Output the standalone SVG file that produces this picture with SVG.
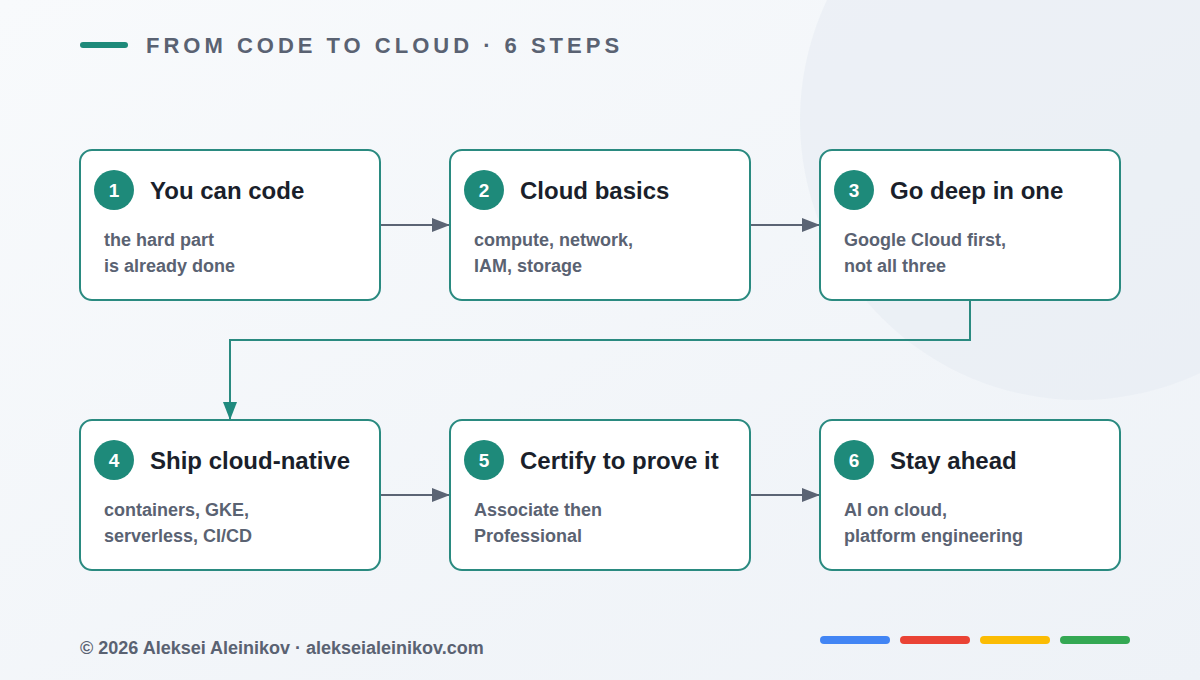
<svg xmlns="http://www.w3.org/2000/svg" width="1200" height="680" viewBox="0 0 1200 680">
  <defs>
    <linearGradient id="bg" x1="0" y1="0" x2="1" y2="1">
      <stop offset="0" stop-color="#f8fafc"/>
      <stop offset="1" stop-color="#eef2f7"/>
    </linearGradient>
    <marker id="arrowGray" viewBox="0 0 18 14" refX="18" refY="7" markerWidth="18" markerHeight="14" markerUnits="userSpaceOnUse" orient="auto">
      <path d="M0,0 L18,7 L0,14 z" fill="#5b6474"/>
    </marker>
    <marker id="arrowTeal" viewBox="0 0 18 14" refX="18" refY="7" markerWidth="18" markerHeight="14" markerUnits="userSpaceOnUse" orient="auto">
      <path d="M0,0 L18,7 L0,14 z" fill="#1f8a7e"/>
    </marker>
    <style>
      .card { fill: #ffffff; stroke: #2a8a80; stroke-width: 2; }
      .badge { fill: #1e8a7a; }
      .num { font-family: "Liberation Sans", Arial, sans-serif; font-weight: 700; font-size: 19px; fill: #ffffff; text-anchor: middle; }
      .title { font-family: "Liberation Sans", Arial, sans-serif; font-weight: 700; font-size: 24px; fill: #1a1f2b; }
      .sub { font-family: "Liberation Sans", Arial, sans-serif; font-weight: 700; font-size: 18px; fill: #5a6272; }
      .flow { fill: none; stroke: #5b6474; stroke-width: 2; }
      .turn { fill: none; stroke: #2a8a80; stroke-width: 2; }
      .head { font-family: "Liberation Sans", Arial, sans-serif; font-weight: 700; font-size: 22px; fill: #5a6272; letter-spacing: 4px; }
      .foot { font-family: "Liberation Sans", Arial, sans-serif; font-weight: 700; font-size: 18px; fill: #5a6272; }
      .bar { stroke-width: 8; stroke-linecap: round; }
    </style>
  </defs>

  <!-- background -->
  <rect width="1200" height="680" fill="url(#bg)"/>
  <circle cx="1080" cy="120" r="280" fill="#e6ebf3" opacity="0.55"/>

  <!-- header -->
  <line x1="83" y1="45" x2="125" y2="45" stroke="#1e8a7a" stroke-width="6" stroke-linecap="round"/>
  <text class="head" x="146" y="52.5">FROM CODE TO CLOUD · 6 STEPS</text>

  <!-- connectors -->
  <g id="connectors">
    <line class="flow" x1="380" y1="225" x2="450" y2="225" marker-end="url(#arrowGray)"/>
    <line class="flow" x1="750" y1="225" x2="820" y2="225" marker-end="url(#arrowGray)"/>
    <polyline class="turn" points="970,300 970,340 230,340 230,420" marker-end="url(#arrowTeal)"/>
    <line class="flow" x1="380" y1="495" x2="450" y2="495" marker-end="url(#arrowGray)"/>
    <line class="flow" x1="750" y1="495" x2="820" y2="495" marker-end="url(#arrowGray)"/>
  </g>

  <!-- step 1 -->
  <g id="step1">
    <rect class="card" x="80" y="150" width="300" height="150" rx="12"/>
    <circle class="badge" cx="114" cy="190" r="20"/>
    <text class="num" x="114" y="197">1</text>
    <text class="title" x="150" y="198.5">You can code</text>
    <text class="sub" x="104" y="246">the hard part</text>
    <text class="sub" x="104" y="272">is already done</text>
  </g>

  <!-- step 2 -->
  <g id="step2">
    <rect class="card" x="450" y="150" width="300" height="150" rx="12"/>
    <circle class="badge" cx="484" cy="190" r="20"/>
    <text class="num" x="484" y="197">2</text>
    <text class="title" x="520" y="198.5">Cloud basics</text>
    <text class="sub" x="474" y="246">compute, network,</text>
    <text class="sub" x="474" y="272">IAM, storage</text>
  </g>

  <!-- step 3 -->
  <g id="step3">
    <rect class="card" x="820" y="150" width="300" height="150" rx="12"/>
    <circle class="badge" cx="854" cy="190" r="20"/>
    <text class="num" x="854" y="197">3</text>
    <text class="title" x="890" y="198.5">Go deep in one</text>
    <text class="sub" x="844" y="246">Google Cloud first,</text>
    <text class="sub" x="844" y="272">not all three</text>
  </g>

  <!-- step 4 -->
  <g id="step4">
    <rect class="card" x="80" y="420" width="300" height="150" rx="12"/>
    <circle class="badge" cx="114" cy="460" r="20"/>
    <text class="num" x="114" y="467">4</text>
    <text class="title" x="150" y="468.5">Ship cloud-native</text>
    <text class="sub" x="104" y="516">containers, GKE,</text>
    <text class="sub" x="104" y="542">serverless, CI/CD</text>
  </g>

  <!-- step 5 -->
  <g id="step5">
    <rect class="card" x="450" y="420" width="300" height="150" rx="12"/>
    <circle class="badge" cx="484" cy="460" r="20"/>
    <text class="num" x="484" y="467">5</text>
    <text class="title" x="520" y="468.5">Certify to prove it</text>
    <text class="sub" x="474" y="516">Associate then</text>
    <text class="sub" x="474" y="542">Professional</text>
  </g>

  <!-- step 6 -->
  <g id="step6">
    <rect class="card" x="820" y="420" width="300" height="150" rx="12"/>
    <circle class="badge" cx="854" cy="460" r="20"/>
    <text class="num" x="854" y="467">6</text>
    <text class="title" x="890" y="468.5">Stay ahead</text>
    <text class="sub" x="844" y="516">AI on cloud,</text>
    <text class="sub" x="844" y="542">platform engineering</text>
  </g>

  <!-- footer -->
  <text class="foot" x="80" y="654">© 2026 Aleksei Aleinikov · alekseialeinikov.com</text>
  <line class="bar" x1="824" y1="640" x2="886" y2="640" stroke="#4285f4"/>
  <line class="bar" x1="904" y1="640" x2="966" y2="640" stroke="#ea4335"/>
  <line class="bar" x1="984" y1="640" x2="1046" y2="640" stroke="#fbbc04"/>
  <line class="bar" x1="1064" y1="640" x2="1126" y2="640" stroke="#34a853"/>
</svg>
